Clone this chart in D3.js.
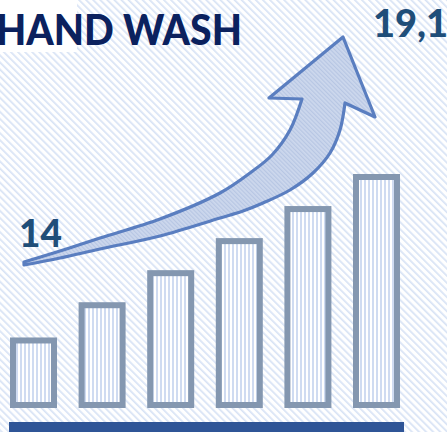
<!DOCTYPE html>
<html>
<head>
<meta charset="utf-8">
<script src="https://d3js.org/d3.v7.min.js"></script>
<style>
  html, body { margin: 0; padding: 0; background: #ffffff; }
  svg { display: block; }
</style>
</head>
<body>
<div id="chart"></div>
<script>
// Hand wash output growth: six periods
const periods = ["P1", "P2", "P3", "P4", "P5", "P6"];
const values = [14, 15.1, 16.1, 17.1, 18.1, 19.1];
const startLabel = "14";
const endLabel = "19,1";
const title = "HAND WASH";

const W = 447, H = 432;
const svg = d3.select("#chart").append("svg")
  .attr("width", W).attr("height", H);

const defs = svg.append("defs");

// diagonal hatch for the backdrop
const bg = defs.append("pattern")
  .attr("id", "bgHatch").attr("patternUnits", "userSpaceOnUse")
  .attr("width", 5).attr("height", 5)
  .attr("patternTransform", "rotate(-45)");
bg.append("rect").attr("width", 5).attr("height", 5).attr("fill", "#ffffff");
bg.append("rect").attr("width", 1.7).attr("height", 5).attr("fill", "#d8e3f5");

// vertical stripes inside the bars
const bs = defs.append("pattern")
  .attr("id", "barStripes").attr("patternUnits", "userSpaceOnUse")
  .attr("width", 4).attr("height", 4);
bs.append("rect").attr("width", 4).attr("height", 4).attr("fill", "#ffffff");
bs.append("rect").attr("width", 2).attr("height", 4).attr("fill", "#cfdbf1");

// fine texture for the arrow body
const ah = defs.append("pattern")
  .attr("id", "arrowHatch").attr("patternUnits", "userSpaceOnUse")
  .attr("width", 3).attr("height", 3)
  .attr("patternTransform", "rotate(-45)");
ah.append("rect").attr("width", 3).attr("height", 3).attr("fill", "#cdd8ed");
ah.append("rect").attr("width", 1.2).attr("height", 3).attr("fill", "#b7c6e3");

svg.append("rect").attr("width", W).attr("height", H).attr("fill", "url(#bgHatch)");

// plain panel behind the heading
svg.append("rect").attr("x", 0).attr("y", 0).attr("width", 77).attr("height", 52)
  .attr("fill", "#ffffff");

// scales
const baseY = 408;
const x = d3.scaleBand().domain(periods).range([10, 400]).paddingInner(0.315).paddingOuter(0);
const y = d3.scaleLinear().domain([11.8, 19.1]).range([baseY, 174]);

const sw = 6;
svg.append("g").selectAll("rect").data(values).join("rect")
  .attr("x", (d, i) => x(periods[i]) + sw / 2)
  .attr("y", d => y(d) + sw / 2)
  .attr("width", x.bandwidth() - sw)
  .attr("height", d => baseY - y(d) - sw)
  .attr("fill", "url(#barStripes)")
  .attr("stroke", "#8497b0")
  .attr("stroke-width", sw);

// baseline bar
svg.append("rect")
  .attr("x", x(periods[0]) - 1)
  .attr("y", 422)
  .attr("width", x(periods[periods.length - 1]) + x.bandwidth() + 5 - x(periods[0]))
  .attr("height", 12)
  .attr("fill", "#2f5597");

// curved growth arrow
const upperEdge = [[24,262],[60,251],[100,238],[160,219],[220,193],[250,173],[272,155],[290,130],[302,99]];
const lowerEdge = [[345,103],[340,130],[330,153],[313,173],[290,190],[263,203],[243,211],[220,218],[160,236],[100,249],[60,258],[24,265]];
const head = [[269,98],[343,37],[375,117]];
const edge = d3.line().curve(d3.curveCatmullRom.alpha(0.5));
const up = edge(upperEdge);
const low = edge(lowerEdge).replace(/^M/, "L");
const headPath = head.map(p => "L" + p[0] + "," + p[1]).join("");
svg.append("path")
  .attr("d", up + headPath + low + "Z")
  .attr("fill", "url(#arrowHatch)")
  .attr("stroke", "#5a7ec0")
  .attr("stroke-width", 3.2)
  .attr("stroke-linejoin", "round");

// heading
svg.append("text")
  .attr("x", -4).attr("y", 45)
  .attr("textLength", 246).attr("lengthAdjust", "spacingAndGlyphs")
  .attr("font-family", "Lato, 'DejaVu Sans', sans-serif")
  .attr("font-weight", 900)
  .attr("font-size", 42)
  .attr("fill", "#0b215e")
  .text(title);

// value labels at each end of the trend
svg.append("text")
  .attr("x", 19).attr("y", 247)
  .attr("font-family", "Lato, 'DejaVu Sans', sans-serif")
  .attr("font-weight", 900)
  .attr("font-size", 37)
  .attr("fill", "#1f4e79")
  .text(startLabel);

svg.append("text")
  .attr("x", 373).attr("y", 37)
  .attr("font-family", "Lato, 'DejaVu Sans', sans-serif")
  .attr("font-weight", 900)
  .attr("font-size", 38)
  .attr("fill", "#1f4e79")
  .text(endLabel);
</script>
</body>
</html>
